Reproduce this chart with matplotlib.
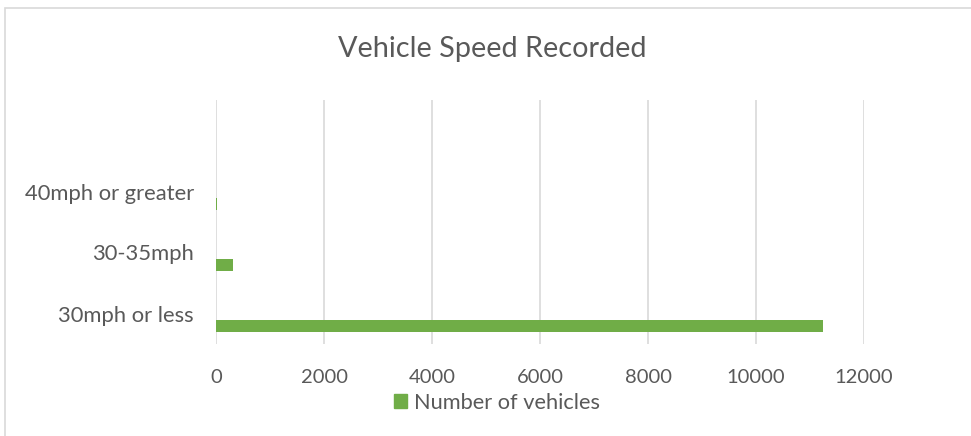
import matplotlib
matplotlib.use("Agg")
import matplotlib.pyplot as plt
from matplotlib.patches import Rectangle, Patch

categories = ["30mph or less", "30-35mph", "40mph or greater"]
vehicles = [11240, 315, 12]
x_ticks = [0, 2000, 4000, 6000, 8000, 10000, 12000]

plt.rcParams['font.family'] = ['Lato', 'DejaVu Sans']
text_color = "#595959"
grid_color = "#D9D9D9"
bar_color = "#70AD47"

fig = plt.figure(figsize=(9.71, 4.36), dpi=100)
fig.patches.append(Rectangle((5/971, -0.1), 1.2, 0.1 + (436-8)/436, transform=fig.transFigure,
                             fill=False, edgecolor=grid_color, linewidth=1.2))

ax = fig.add_axes([216/971, (436-344)/436, 648/971, 244/436])
pos = list(range(len(categories)))
ax.barh([p - 0.2 for p in pos], vehicles, height=0.2, color=bar_color,
        label="Number of vehicles")

ax.set_xlim(0, 12000)
ax.set_ylim(-0.5, 3.5)
ax.set_xticks(x_ticks)
ax.set_xticklabels([str(t) for t in x_ticks])
ax.set_yticks(pos)
ax.set_yticklabels(categories)
ax.tick_params(axis='both', length=0, colors=text_color)
ax.tick_params(axis='x', pad=18, labelsize=14.5)
ax.tick_params(axis='y', pad=16, labelsize=15.8)
ax.grid(axis='x', color=grid_color, linewidth=1.2)
ax.set_axisbelow(True)
for s in ax.spines.values():
    s.set_visible(False)

fig.text(492/971, 1 - 49/436, "Vehicle Speed Recorded", ha='center', va='center',
         fontsize=20.8, color=text_color)

fig.legend(handles=[Patch(color=bar_color, label="Number of vehicles")],
           loc='center', bbox_to_anchor=(497/971, 1 - 403/436), frameon=False,
           fontsize=15.7, labelcolor=text_color, handlelength=0.6, handleheight=0.6,
           handletextpad=0.3)

fig.savefig("out.png", dpi=100)
